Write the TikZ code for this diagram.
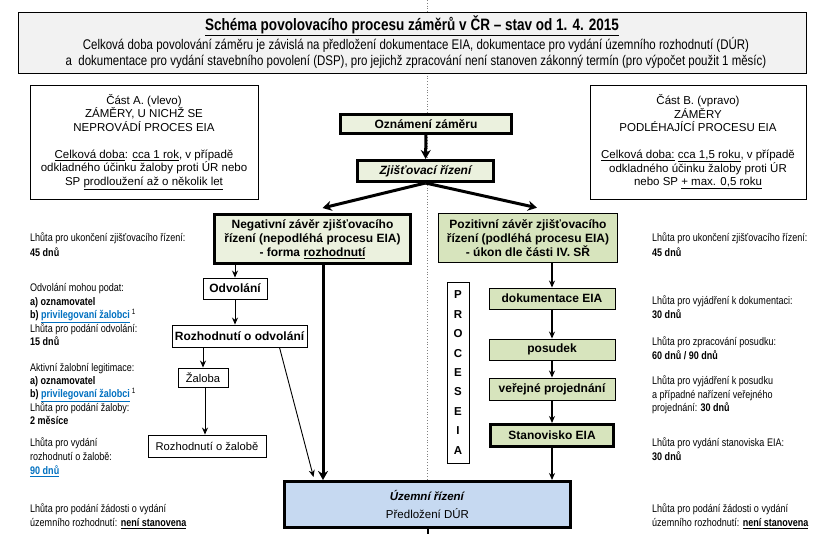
\documentclass[tikz,border=0pt]{standalone}
\usepackage{fontspec}
\setmainfont{Liberation Sans}
\newfontfamily\narrowfont{Liberation Sans}[FakeStretch=0.82]
\usepackage{tikz}
\usetikzlibrary{positioning,calc}
\usetikzlibrary{arrows.meta}
\definecolor{palegreen}{HTML}{EBF1DE}
\definecolor{olivegreen}{HTML}{D7E4BD}
\definecolor{paleblue}{HTML}{C6D9F1}
\definecolor{titlegray}{HTML}{F2F2F2}
\definecolor{linkblue}{HTML}{0070C0}
\newcommand{\lnk}[1]{\textcolor{linkblue}{\underline{#1}}}

\begin{document}
\begin{tikzpicture}[
  x=1pt,y=-1pt,
  >={Stealth[length=7pt,width=6pt]},
  box/.style={draw,line width=0.9pt,fill=white,inner sep=0pt,align=center,
    font=\fontsize{12}{13.8}\selectfont\bfseries},
  greenbox/.style={box,fill=olivegreen,minimum width=126pt},
  heavybox/.style={box,line width=3pt},
  partbox/.style={draw,line width=0.9pt,inner sep=0pt,align=center,minimum width=228pt,
    minimum height=114pt,font=\fontsize{11.5}{13.5}\selectfont},
  annot/.style={inner sep=0pt,anchor=base west,align=left,font=\narrowfont\fontsize{11}{13.5}\selectfont},
  link/.style={->,line width=0.9pt},
  heavylink/.style={line width=3pt,-{Stealth[length=9pt,width=10pt]}}
  ]
  \useasboundingbox (0,0) rectangle (829,534);
  % Divide line
  \draw[gray,dotted,line width=0.8pt] (427,0) -- (427,534);
  % Heading
  \node[draw,line width=0.9pt,fill=titlegray,minimum width=788pt,minimum height=61pt] (title) at (412,42.5) {};
  \node[font=\narrowfont\fontsize{16.5}{18}\selectfont\bfseries] (heading) at (412,26)
    {\underline{Schéma povolovacího procesu záměrů v ČR – stav od 1. 4. 2015}};
  \node[font=\narrowfont\fontsize{14}{16}\selectfont,align=center] (intro) at (416,53)
    {Celková doba povolování záměru je závislá na předložení dokumentace EIA, dokumentace pro vydání územního rozhodnutí (DÚR)\\
     a\ \ dokumentace pro vydání stavebního povolení (DSP), pro jejichž zpracování není stanoven zákonný termín (pro výpočet použit 1 měsíc)};
  % Part boxes
  \node[partbox] (partA) at (144,142)
    {Část A. (vlevo)\\ ZÁMĚRY, U NICHŽ SE\\ NEPROVÁDÍ PROCES EIA\\[13.5pt]
     \underline{Celková doba}: \underline{cca 1 rok}, v případě\\ odkladného účinku žaloby proti ÚR nebo\\
     SP \underline{prodloužení až o několik let}};
  \node[partbox,minimum width=216pt] (partB) at (698,142)
    {Část B. (vpravo)\\ ZÁMĚRY\\ PODLÉHAJÍCÍ PROCESU EIA\\[13.5pt]
     \underline{Celková doba:} \underline{cca 1,5 roku}, v případě\\ odkladného účinku žaloby proti ÚR\\
     nebo SP \underline{+ max. 0,5 roku}};
  % Common steps
  \node[heavybox,fill=palegreen,minimum width=171pt,minimum height=19pt]
    (notice) at (426,124) {Oznámení záměru};
  \node[heavybox,fill=palegreen,minimum width=136pt,minimum height=21pt,font=\fontsize{12}{14}\selectfont\bfseries\itshape]
    (screening) at (425.5,171) {Zjišťovací řízení};
  \node[heavybox,fill=palegreen,minimum width=196pt,minimum height=49pt] (negative) at (312.5,239)
    {Negativní závěr zjišťovacího\\ řízení (nepodléhá procesu EIA)\\ - forma \underline{rozhodnutí}};
  \node[box,line width=1.5pt,fill=olivegreen,minimum width=179pt,minimum height=49pt] (positive) at (528,238)
    {Pozitivní závěr zjišťovacího\\ řízení (podléhá procesu EIA)\\ - úkon dle části IV. SŘ};
  % Part A steps
  \node[box,minimum width=64pt,minimum height=21pt] (appeal) at (235,288.5) {Odvolání};
  \node[box,minimum width=135pt,minimum height=22pt] (appealdec) at (239.5,336) {Rozhodnutí o odvolání};
  \node[box,minimum width=50pt,minimum height=19pt,font=\fontsize{11.2}{14}\selectfont] (action) at (203,377.5) {Žaloba};
  \node[box,minimum width=118pt,minimum height=22pt,font=\fontsize{11.2}{14}\selectfont] (actiondec) at (207,446) {Rozhodnutí o žalobě};
  % Part B steps
  \node[box,minimum width=22pt,minimum height=181pt,font=\fontsize{11.5}{19.4}\selectfont\bfseries] (eia) at (458,372.5)
    {P\\R\\O\\C\\E\\S\\E\\I\\A};
  \node[greenbox,minimum height=21pt] (documentation) at (552,298.5) {dokumentace EIA};
  \node[greenbox,minimum height=21pt] (review) at (552,349.5) {posudek};
  \node[greenbox,minimum height=22pt] (hearing) at (552,389) {veřejné projednání};
  \node[greenbox,line width=3pt,minimum width=123pt,minimum height=22pt] (opinion) at (552,435.5) {Stanovisko EIA};
  % Zoning procedure
  \node[heavybox,fill=paleblue,minimum width=286pt,minimum height=46pt,font=\fontsize{11.5}{14}\selectfont]
    (zoning) at (427.5,504.5) {\textbf{\textit{Územní řízení}}\\[4pt] Předložení DÚR};
  \coordinate (exit) at (428,534);
  % Connectors
  \draw[heavylink] (notice) -- (screening);
  \draw[heavylink] (screening.south) -- ([xshift=10pt,yshift=5pt]negative.north);
  \draw[heavylink] (screening.south) -- ([xshift=9pt,yshift=5pt]positive.north);
  \draw[link] (appeal.north |- negative.south) -- (appeal.north);
  \draw[link] (appeal.south) -- (appeal.south |- appealdec.north);
  \draw[link] (action.north |- appealdec.south) -- (action.north);
  \draw[link] ([xshift=2pt]action.south) -- ([xshift=2pt]action.south |- actiondec.north);
  \draw[heavylink] ([xshift=10.5pt]negative.south) -- ([xshift=10.5pt]negative.south |- zoning.north);
  \draw[link] ([xshift=40pt]appealdec.south) -- ([xshift=-114pt,yshift=3pt]zoning.north);
  \draw[link,line width=1.5pt] (documentation.north |- positive.south) -- (documentation.north);
  \draw[link,line width=1.3pt] (documentation) -- (review);
  \draw[link,line width=1.3pt] (review) -- (hearing);
  \draw[link,line width=1.3pt] (hearing) -- (opinion);
  \draw[link,line width=1.5pt] (opinion.south) -- (opinion.south |- zoning.north);
  \draw[line width=1.5pt] (zoning.south -| exit) -- (exit);
  % Deadlines, part A
  \node[annot] (termA1) at (30,256.5) {Lhůta pro ukončení zjišťovacího řízení:\\[1.5pt] \textbf{45 dnů}};
  \node[annot] (termA2) at (30,345.5)
    {Odvolání mohou podat:\\ \textbf{a) oznamovatel}\\ \textbf{b) \lnk{privilegovaní žalobci}}\,\textsuperscript{1}\\
     Lhůta pro podání odvolání:\\ \textbf{15 dnů}};
  \node[annot,font=\narrowfont\fontsize{11}{13}\selectfont] (termA3) at (30,424.5)
    {Aktivní žalobní legitimace:\\ \textbf{a) oznamovatel}\\ \textbf{b) \lnk{privilegovaní žalobci}}\,\textsuperscript{1}\\
     Lhůta pro podání žaloby:\\ \textbf{2 měsíce}};
  \node[annot,font=\narrowfont\fontsize{11}{14}\selectfont] (termA4) at (30,474.5)
    {Lhůta pro vydání\\ rozhodnutí o žalobě:\\ \textbf{\lnk{90 dnů}}};
  \node[annot,font=\narrowfont\fontsize{11}{14}\selectfont] (termA5) at (30,526.5)
    {Lhůta pro podání žádosti o vydání\\ územního rozhodnutí: \textbf{\underline{není stanovena}}};
  % Deadlines, part B
  \node[annot] (termB1) at (652,257) {Lhůta pro ukončení zjišťovacího řízení:\\[1.5pt] \textbf{45 dnů}};
  \node[annot,font=\narrowfont\fontsize{11}{14}\selectfont] (termB2) at (652,318.5) {Lhůta pro vyjádření k dokumentaci:\\ \textbf{30 dnů}};
  \node[annot,font=\narrowfont\fontsize{11}{14}\selectfont] (termB3) at (652,359) {Lhůta pro zpracování posudku:\\ \textbf{60 dnů / 90 dnů}};
  \node[annot] (termB4) at (652,411.5)
    {Lhůta pro vyjádření k posudku\\ a případné nařízení veřejného\\ projednání: \textbf{30 dnů}};
  \node[annot,font=\narrowfont\fontsize{11}{14.5}\selectfont] (termB5) at (652,460.5) {Lhůta pro vydání stanoviska EIA:\\ \textbf{30 dnů}};
  \node[annot,font=\narrowfont\fontsize{11}{14}\selectfont] (termB6) at (652,526.5)
    {Lhůta pro podání žádosti o vydání\\ územního rozhodnutí: \textbf{\underline{není stanovena}}};
\end{tikzpicture}
\end{document}
